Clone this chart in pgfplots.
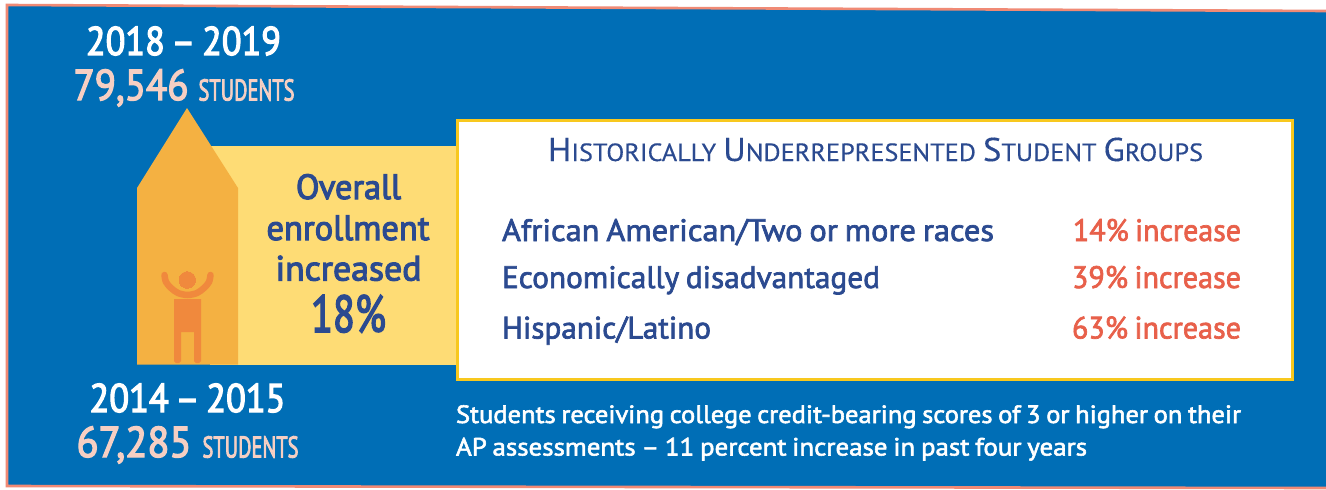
\documentclass[border=0pt]{standalone}
\usepackage{pgfplots}
\pgfplotsset{compat=1.18}
\usepackage{fontspec}
\setmainfont[FakeBold=2.2,WordSpace=0.8]{PT Sans}
\newfontfamily\lightf[FakeBold=0.3,WordSpace=1.0]{PT Sans}
\newfontfamily\heavyf[FakeBold=3.2,WordSpace=0.7]{PT Sans}
\definecolor{bg}{HTML}{006EB6}
\definecolor{edge}{HTML}{F08A75}
\definecolor{lightyel}{HTML}{FEDC75}
\definecolor{orng}{HTML}{F4B142}
\definecolor{fig}{HTML}{F0893D}
\definecolor{gold}{HTML}{F8C81E}
\definecolor{navy}{HTML}{2B4A90}
\definecolor{redor}{HTML}{E8604A}
\definecolor{pinkt}{HTML}{F6CFC3}
% width fixed in px, font size sets the height
\newcommand{\TT}[3]{\resizebox{#1bp}{\height}{\fontsize{#2bp}{#2bp}\selectfont #3}}
\tikzset{t/.style={inner sep=0pt, outer sep=0pt}}
\begin{document}
\begin{tikzpicture}
\begin{axis}[
  width=1326bp, height=489bp, scale only axis,
  xmin=0, xmax=1326, ymin=0, ymax=489, y dir=reverse,
  hide axis, clip=true,
]
\addplot[fill=white, draw=none] coordinates {(0,0)(1326,0)(1326,489)(0,489)} --cycle;
\addplot[fill=bg, draw=none] coordinates {(7,5)(1326,11)(1326,487)(7,486)} --cycle;
\addplot[draw=edge, line width=2.6bp] coordinates {(1326,11)(7,5)(7,486)(1326,488)};
% yellow band and orange arrow
\addplot[fill=lightyel, draw=none] coordinates {(210,146)(456,146)(456,365)(210,365)} --cycle;
\addplot[fill=orng, draw=none] coordinates {(137,188)(187,108)(238,188)(238,364.5)(137,364.5)} --cycle;
% figure
\addplot[fill=fig, draw=none] coordinates {(174,299)(201,299)(201,332)(201,361)(199,363)(196,363)(194,361)(194,332)(181,332)(181,361)(179,363)(176,363)(174,361)} --cycle;
\addplot[draw=fig, line width=6.5bp, line cap=round, smooth] coordinates {(164.5,275)(166,282)(171,288)(178,293)(187.5,295)(197,293)(204,288)(209,282)(210.5,275)};
\addplot[only marks, mark=*, mark size=8.3bp, mark options={fill=fig, draw=fig, line width=0pt}] coordinates {(187.3,280)};
% white box
\addplot[fill=white, draw=gold, line width=3bp] coordinates {(457,120)(1292,120)(1292,379.5)(457,379.5)} --cycle;
% left texts
\node[t, anchor=base west, text=white] at (axis cs:86,55) {\TT{195}{40}{\heavyf 2018 – 2019}};
\node[t, anchor=base west, text=pinkt] at (axis cs:73.5,100) {\TT{115}{43}{\heavyf 79,546}};
\node[t, anchor=base west, text=pinkt] at (axis cs:198.5,100.5) {\TT{96}{30}{\heavyf STUDENTS}};
\node[t, anchor=base west, text=white] at (axis cs:89.5,412) {\TT{196}{40}{\heavyf 2014 – 2015}};
\node[t, anchor=base west, text=pinkt] at (axis cs:76.5,457) {\TT{115}{43}{\heavyf 67,285}};
\node[t, anchor=base west, text=pinkt] at (axis cs:202.5,457.5) {\TT{96}{30}{\heavyf STUDENTS}};
% centre texts
\node[t, anchor=base west, text=navy] at (axis cs:296,199) {\TT{105}{35}{\heavyf Overall}};
\node[t, anchor=base west, text=navy] at (axis cs:266.5,240) {\TT{163}{35}{\heavyf enrollment}};
\node[t, anchor=base west, text=navy] at (axis cs:275.5,280.5) {\TT{146}{35}{\heavyf increased}};
\node[t, anchor=base west, text=navy] at (axis cs:311,332) {\TT{75}{52}{\heavyf 18\%}};
% title
\node[t, anchor=base west, text=navy] at (axis cs:548,161) {\TT{655}{33}{\lightf H\fontsize{25}{25}\selectfont ISTORICALLY \fontsize{33}{33}\selectfont U\fontsize{25}{25}\selectfont NDERREPRESENTED \fontsize{33}{33}\selectfont S\fontsize{25}{25}\selectfont TUDENT \fontsize{33}{33}\selectfont G\fontsize{25}{25}\selectfont ROUPS}};
% rows
\node[t, anchor=base west, text=navy] at (axis cs:502,241) {\TT{492}{31}{African American/Two or more races}};
\node[t, anchor=base west, text=navy] at (axis cs:502,288) {\TT{378}{31}{Economically disadvantaged}};
\node[t, anchor=base west, text=navy] at (axis cs:502,338.5) {\TT{209}{31}{Hispanic/Latino}};
\node[t, anchor=base east, text=redor] at (axis cs:1241,241) {\TT{168}{31}{14\% increase}};
\node[t, anchor=base east, text=redor] at (axis cs:1241,288) {\TT{169}{31}{39\% increase}};
\node[t, anchor=base east, text=redor] at (axis cs:1241,338.5) {\TT{169}{31}{63\% increase}};
% note
\node[t, anchor=base west, text=white] at (axis cs:456,423) {\TT{785}{25}{Students receiving college credit-bearing scores of 3 or higher on their}};
\node[t, anchor=base west, text=white] at (axis cs:456,455.5) {\TT{631}{25}{AP assessments – 11 percent increase in past four years}};
\end{axis}
\end{tikzpicture}
\end{document}
